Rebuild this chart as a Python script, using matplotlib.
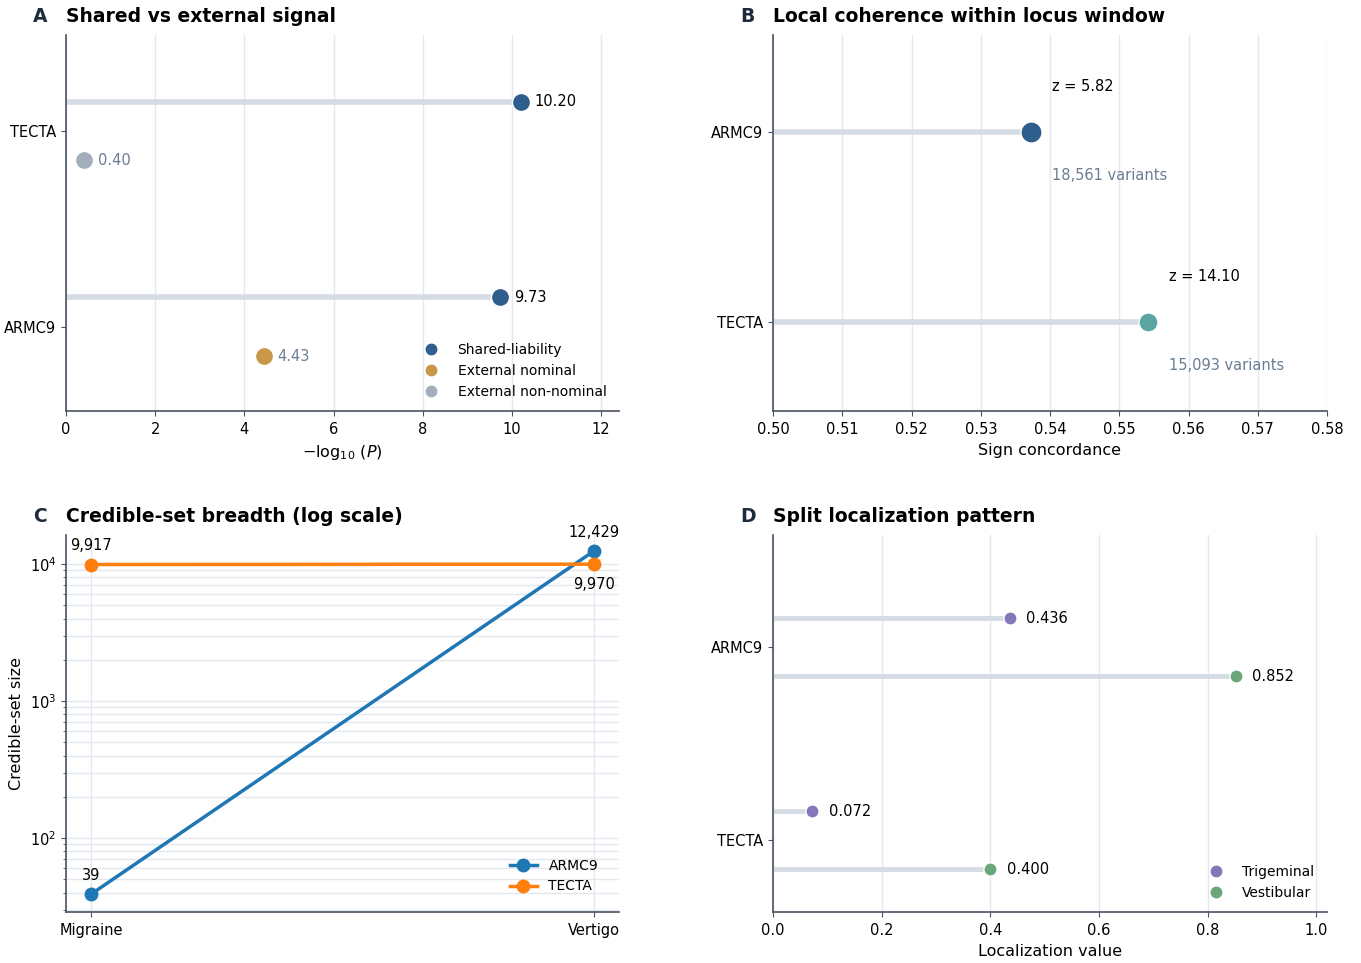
"""Four-panel summary of the ARMC9 / TECTA loci."""

import matplotlib

matplotlib.use("Agg")
import matplotlib.pyplot as plt
from matplotlib.lines import Line2D

# Panel A: shared vs external -log10(P)
genes_a = ["ARMC9", "TECTA"]
shared_logp = [9.73, 10.20]
external_logp = [4.43, 0.40]
external_nominal = [True, False]

# Panel B: sign concordance within the locus window
genes_b = ["TECTA", "ARMC9"]
concordance = [0.5542, 0.5373]
z_scores = [14.10, 5.82]
n_variants = [15093, 18561]

# Panel C: credible-set size per trait
traits = ["Migraine", "Vertigo"]
cs_armc9 = [39, 12429]
cs_tecta = [9917, 9970]

# Panel D: localization values
genes_d = ["TECTA", "ARMC9"]
trigeminal = [0.072, 0.436]
vestibular = [0.400, 0.852]

NAVY = "#2f5d8c"
TEAL = "#5ba5a2"
GOLD = "#c8974a"
SLATE = "#a2aebb"
PURPLE = "#8677b8"
GREEN = "#6aa67a"
STEM = "#d6dce4"
GRID = "#e3e8ef"
SPINE = "#4a5160"
MUTED = "#6b7d94"
LETTER = "#1e2b3c"
FS = 10.5

plt.rcParams.update({
    "font.family": "DejaVu Sans",
    "font.size": FS,
    "axes.edgecolor": SPINE,
    "axes.linewidth": 1.2,
    "xtick.color": SPINE,
    "ytick.color": SPINE,
    "xtick.labelcolor": "black",
    "ytick.labelcolor": "black",
    "xtick.labelsize": FS,
    "ytick.labelsize": FS,
    "axes.labelsize": 11.5,
    "xtick.major.pad": 4.5,
    "legend.fontsize": 10,
    "legend.frameon": False,
})


def style_axes(ax, letter, title):
    for side in ("top", "right"):
        ax.spines[side].set_visible(False)
    ax.set_axisbelow(True)
    ax.set_title(title, loc="left", fontsize=13.5, fontweight="bold", pad=9)
    ax.annotate(letter, xy=(0, 1), xycoords="axes fraction", xytext=(-23.8, 9),
                textcoords="offset points", fontsize=13.5, fontweight="bold",
                color=LETTER, ha="left", va="baseline")


def dot_handle(color, label):
    return Line2D([], [], marker="o", ls="", color=color, markersize=7.5, label=label)


fig = plt.figure(figsize=(13.61, 9.63), dpi=100)
ax_a = fig.add_axes([66 / 1361, 1 - 411 / 963, 553 / 1361, 376 / 963])
ax_b = fig.add_axes([773 / 1361, 1 - 411 / 963, 554 / 1361, 376 / 963])
ax_c = fig.add_axes([66 / 1361, 1 - 912 / 963, 553 / 1361, 377 / 963])
ax_d = fig.add_axes([773 / 1361, 1 - 912 / 963, 554 / 1361, 377 / 963])

# --- A: lollipops for shared signal, bare dots for external signal
off = 0.15
for i, gene in enumerate(genes_a):
    ys, ye = i + off, i - off
    ax_a.hlines(ys, 0, shared_logp[i], color=STEM, lw=4, zorder=1)
    ax_a.scatter(shared_logp[i], ys, s=170, color=NAVY, edgecolor="white",
                 linewidth=1, zorder=3)
    ax_a.annotate(f"{shared_logp[i]:.2f}", (shared_logp[i], ys), xytext=(10, 0),
                  textcoords="offset points", ha="left", va="center", fontsize=FS)
    col = GOLD if external_nominal[i] else SLATE
    ax_a.scatter(external_logp[i], ye, s=170, color=col, edgecolor="white",
                 linewidth=1, zorder=3)
    ax_a.annotate(f"{external_logp[i]:.2f}", (external_logp[i], ye), xytext=(10, 0),
                  textcoords="offset points", ha="left", va="center", fontsize=FS,
                  color=MUTED)
ax_a.set_yticks(range(len(genes_a)), genes_a)
ax_a.set_ylim(-0.43, 1.49)
ax_a.set_xlim(0, max(shared_logp) * 1.216)
ax_a.set_xticks(range(0, 13, 2))
ax_a.set_xlabel(r"$-\log_{10}\,(P)$")
ax_a.grid(axis="x", color=GRID, lw=1)
style_axes(ax_a, "A", "Shared vs external signal")
ax_a.legend(handles=[dot_handle(NAVY, "Shared-liability"),
                     dot_handle(GOLD, "External nominal"),
                     dot_handle(SLATE, "External non-nominal")],
            loc="lower right", handletextpad=0.9)

# --- B: sign concordance, marker size scales with variant count
colors_b = [TEAL, NAVY]
sizes_b = [n / 80 for n in n_variants]
for i, gene in enumerate(genes_b):
    ax_b.hlines(i, 0.5, concordance[i], color=STEM, lw=4, zorder=1)
    ax_b.scatter(concordance[i], i, s=sizes_b[i], color=colors_b[i],
                 edgecolor="white", linewidth=1, zorder=3)
    ax_b.text(concordance[i] + 0.003, i + 0.24, f"z = {z_scores[i]:.2f}",
              ha="left", va="center", fontsize=FS)
    ax_b.text(concordance[i] + 0.003, i - 0.23, f"{n_variants[i]:,} variants",
              ha="left", va="center", fontsize=FS, color=MUTED)
ax_b.set_yticks(range(len(genes_b)), genes_b)
ax_b.set_ylim(-0.47, 1.51)
ax_b.set_xlim(0.50, 0.58)
ax_b.set_xticks([0.50 + 0.01 * k for k in range(9)])
ax_b.xaxis.set_major_formatter(matplotlib.ticker.FormatStrFormatter("%.2f"))
ax_b.set_xlabel("Sign concordance")
ax_b.grid(axis="x", color=GRID, lw=1)
style_axes(ax_b, "B", "Local coherence within locus window")

# --- C: credible-set breadth, log scale
xs = list(range(len(traits)))
ax_c.plot(xs, cs_armc9, marker="o", color="#1f77b4", lw=2.5, markersize=9,
          label="ARMC9", zorder=3)
ax_c.plot(xs, cs_tecta, marker="o", color="#ff7f0e", lw=2.5, markersize=9,
          label="TECTA", zorder=3)
for x, v in zip(xs, cs_armc9):
    ax_c.annotate(f"{v:,}", (x, v), xytext=(0, 8), textcoords="offset points",
                  ha="center", va="bottom", fontsize=FS)
for x, v in zip(xs, cs_tecta):
    dy, va = (8, "bottom") if x == 0 else (-9, "top")
    ax_c.annotate(f"{v:,}", (x, v), xytext=(0, dy), textcoords="offset points",
                  ha="center", va=va, fontsize=FS)
ax_c.set_yscale("log")
ax_c.set_ylim(min(cs_armc9) / 1.35, max(cs_armc9) * 1.31)
ax_c.set_xlim(-0.05, 1.05)
ax_c.set_xticks(xs, traits)
ax_c.set_ylabel("Credible-set size")
ax_c.grid(which="both", axis="y", color=GRID, lw=1)
ax_c.grid(axis="x", color=GRID, lw=1)
ax_c.legend(loc="lower right", handlelength=2, bbox_to_anchor=(0.985, 0.016))
style_axes(ax_c, "C", "Credible-set breadth (log scale)")

# --- D: trigeminal vs vestibular localization
for i, gene in enumerate(genes_d):
    for val, dy, col in ((trigeminal[i], off, PURPLE), (vestibular[i], -off, GREEN)):
        ax_d.hlines(i + dy, 0, val, color=STEM, lw=3.5, zorder=1)
        ax_d.scatter(val, i + dy, s=90, color=col, edgecolor="white",
                     linewidth=1, zorder=3)
        ax_d.annotate(f"{val:.3f}", (val, i + dy), xytext=(12, 0),
                      textcoords="offset points", ha="left", va="center", fontsize=FS)
ax_d.set_yticks(range(len(genes_d)), genes_d)
ax_d.set_ylim(-0.37, 1.58)
ax_d.set_xlim(0, 1.02)
ax_d.set_xticks([0.0, 0.2, 0.4, 0.6, 0.8, 1.0])
ax_d.set_xlabel("Localization value")
ax_d.grid(axis="x", color=GRID, lw=1)
ax_d.legend(handles=[dot_handle(PURPLE, "Trigeminal"), dot_handle(GREEN, "Vestibular")],
            loc="lower right", handletextpad=0.9)
style_axes(ax_d, "D", "Split localization pattern")

fig.savefig("out.png", dpi=100)
